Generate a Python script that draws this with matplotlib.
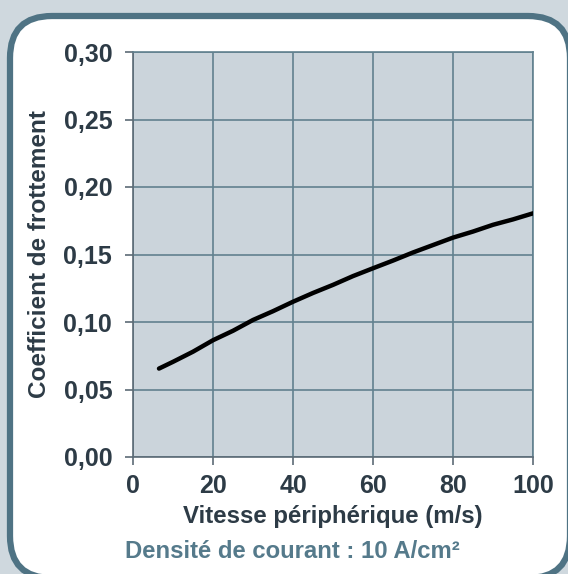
import matplotlib
matplotlib.use("Agg")
import matplotlib.pyplot as plt
from matplotlib.patches import FancyBboxPatch
from matplotlib.ticker import FuncFormatter

# vitesse (m/s) et coefficient de frottement
vitesse = [6.5, 10, 15, 20, 25, 30, 35, 40, 45, 50, 55, 60, 65, 70, 75, 80, 85, 90, 95, 100]
coeff = [0.0655, 0.0705, 0.078, 0.0865, 0.0935, 0.1015, 0.108, 0.115, 0.1215, 0.1275,
         0.134, 0.1398, 0.1455, 0.1515, 0.157, 0.1625, 0.167, 0.172, 0.176, 0.1805]

x_ticks = [0, 20, 40, 60, 80, 100]
y_ticks = [0, 0.05, 0.10, 0.15, 0.20, 0.25, 0.30]

OUTER_BG = "#cfd8de"
PLOT_BG = "#cbd4db"
BORDER = "#4f7384"
GRID = "#62818f"
TEXT = "#2d3b46"
SUB = "#557a8b"

plt.rcParams["font.family"] = ["Liberation Sans", "DejaVu Sans"]
plt.rcParams["font.weight"] = "bold"

W, H = 568, 574
fig = plt.figure(figsize=(W / 100, H / 100), dpi=100, facecolor=OUTER_BG)

# panneau blanc arrondi derriere le graphique (coordonnees en pixels)
bg = fig.add_axes([0, 0, 1, 1], zorder=-1)
bg.set_xlim(0, W)
bg.set_ylim(0, H)
bg.axis("off")
panel = FancyBboxPatch((10, -4), 560, 566 - 4, boxstyle="round,pad=0,rounding_size=42",
                       facecolor="white", edgecolor=BORDER, linewidth=4.5)
bg.add_patch(panel)

ax = fig.add_axes([133 / W, 117 / H, 400 / W, 405 / H])
ax.set_facecolor(PLOT_BG)
ax.plot(vitesse, coeff, color="black", linewidth=3.2, solid_capstyle="round",
        solid_joinstyle="round", zorder=3)

ax.set_xlim(0, 100)
ax.set_ylim(0, 0.30)
ax.set_xticks(x_ticks)
ax.set_yticks(y_ticks)
ax.yaxis.set_major_formatter(FuncFormatter(lambda v, p: f"{v:.2f}".replace(".", ",")))
ax.grid(True, color=GRID, linewidth=1.2)
ax.set_axisbelow(True)
for s in ax.spines.values():
    s.set_color(GRID)
    s.set_linewidth(1.2)
ax.spines["left"].set_color("#5c6b76")
ax.spines["bottom"].set_color("#5c6b76")
ax.tick_params(axis="both", length=6, width=1.2, color="#5c6b76", labelsize=18, labelcolor=TEXT)
ax.tick_params(axis="y", pad=9)
ax.tick_params(axis="x", pad=6)
for lab in ax.get_xticklabels() + ax.get_yticklabels():
    lab.set_fontweight("bold")

ax.set_xlabel("Vitesse périphérique (m/s)", fontsize=17.3, fontweight="bold", color=TEXT, labelpad=5)
ax.set_ylabel("Coefficient de frottement", fontsize=17.5, fontweight="bold", color=TEXT, labelpad=9)

fig.text(125 / W, 1 - 552 / H, "Densité de courant : 10 A/cm²", fontsize=17.2,
         fontweight="bold", color=SUB, ha="left", va="center")

fig.savefig("out.png", dpi=100, facecolor=OUTER_BG)
